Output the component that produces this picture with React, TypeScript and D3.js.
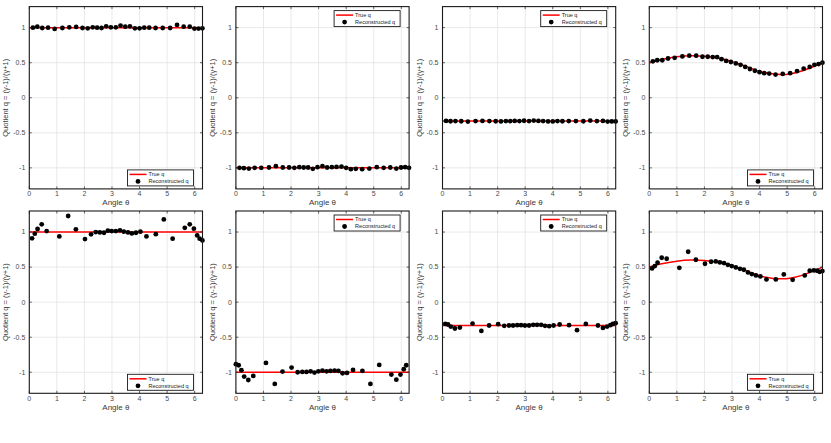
import React from 'react';
import * as d3 from 'd3';

const W = 831;
const H = 443;
const TAU = 2 * Math.PI;

// sample angles (top row: clean reconstructions, bottom row: noisy)
const thetaTop = [0.13, 0.29, 0.47, 0.68, 0.92, 1.2, 1.45, 1.7, 1.93, 2.12, 2.3, 2.46, 2.62, 2.79, 2.96, 3.14,
  3.31, 3.48, 3.65, 3.83, 4.0, 4.17, 4.35, 4.58, 4.84, 5.11, 5.36, 5.6, 5.82, 5.99, 6.14, 6.28];
const thetaBottom = [0, 0.1, 0.2, 0.3, 0.45, 0.63, 1.09, 1.41, 1.69, 2.02, 2.24, 2.41, 2.56, 2.71, 2.85, 2.99,
  3.14, 3.29, 3.43, 3.58, 3.72, 3.87, 4.03, 4.25, 4.59, 4.88, 5.2, 5.64, 5.82, 5.97, 6.09, 6.18, 6.28];

const reconPos = [1.0, 1.014, 0.995, 1.0, 0.981, 0.995, 1.005, 1.01, 0.995, 0.99, 1.005, 1.0, 0.995, 1.019, 1.005, 1.005,
  1.029, 1.014, 1.019, 0.99, 0.99, 1.0, 1.0, 0.995, 0.995, 0.995, 1.038, 1.014, 1.014, 0.986, 0.986, 0.99];
const reconNeg = [-1.0, -1.005, -1.01, -1.0, -1.0, -0.995, -0.976, -0.995, -0.995, -1.0, -0.99, -0.995, -0.995, -1.014, -0.99, -0.976,
  -0.995, -0.99, -0.986, -0.981, -1.0, -1.019, -1.014, -1.019, -1.01, -0.99, -1.0, -0.995, -1.01, -0.995, -0.99, -1.0];
const reconThird = [-0.33, -0.335, -0.333, -0.335, -0.34, -0.333, -0.33, -0.333, -0.335, -0.338, -0.333, -0.333, -0.33, -0.333, -0.328, -0.333,
  -0.325, -0.33, -0.333, -0.338, -0.338, -0.333, -0.335, -0.333, -0.333, -0.335, -0.325, -0.333, -0.33, -0.34, -0.338, -0.338];
const reconWave = [0.52, 0.535, 0.535, 0.56, 0.57, 0.59, 0.6, 0.6, 0.585, 0.585, 0.58, 0.58, 0.55, 0.525, 0.51, 0.49,
  0.47, 0.44, 0.41, 0.385, 0.365, 0.35, 0.345, 0.33, 0.34, 0.35, 0.38, 0.415, 0.44, 0.47, 0.48, 0.5];

const noisyPos = [null, 0.91, 0.976, 1.043, 1.11, 1.014, 0.938, 1.229, 1.038, 0.9, 0.967, 1.0, 0.995, 0.99, 1.02, 1.014,
  1.014, 1.024, 1.005, 0.995, 0.98, 0.99, 1.005, 0.938, 0.97, 1.18, 0.905, 1.06, 1.11, 1.048, 0.952, 0.905, 0.88];
const noisyNeg = [-0.886, -0.9, -0.971, -1.062, -1.11, -1.052, -0.867, -1.167, -0.99, -0.933, -1.0, -0.995, -0.995, -0.986, -1.005, -0.986,
  -0.976, -0.986, -0.981, -0.976, -0.981, -1.014, -1.01, -0.967, -0.981, -1.167, -0.895, -1.033, -1.105, -1.033, -0.957, -0.9, null];
const noisyThird = [null, -0.31, -0.319, -0.348, -0.376, -0.362, -0.305, -0.41, -0.333, -0.314, -0.338, -0.333, -0.333, -0.329, -0.329, -0.333,
  -0.333, -0.324, -0.324, -0.324, -0.338, -0.343, -0.333, -0.319, -0.329, -0.4, -0.31, -0.333, -0.367, -0.348, -0.329, -0.31, -0.3];
const noisyWave = [null, 0.481, 0.514, 0.562, 0.633, 0.619, 0.49, 0.719, 0.605, 0.548, 0.576, 0.581, 0.567, 0.557, 0.533, 0.514,
  0.495, 0.476, 0.462, 0.424, 0.4, 0.381, 0.367, 0.324, 0.324, 0.395, 0.319, 0.381, 0.448, 0.452, 0.448, 0.433, 0.443];

// true quotient
const flatTheta = [0, TAU];
const truePos = [1, 1];
const trueNeg = [-1, -1];
const trueThird = [-1 / 3, -1 / 3];
const waveTheta = [0, 0.5, 1.0, 1.5, 2.0, 2.5, 3.0, 3.5, 4.0, 4.5, 4.8, 5.1, 5.5, 6.0, TAU];
const trueWave = [0.5, 0.55, 0.585, 0.6, 0.593, 0.567, 0.515, 0.45, 0.375, 0.338, 0.332, 0.34, 0.378, 0.452, 0.5];

const xTicks = [0, 1, 2, 3, 4, 5, 6];
const yTicks = [-1, -0.5, 0, 0.5, 1];

const FONT = '"Liberation Sans", Arial, Helvetica, sans-serif';

type Cfg = {
  theta: number[];
  q: (number | null)[];
  tTheta: number[];
  tQ: number[];
  legend: 'ne' | 'se';
};

const panels: Cfg[] = [
  { theta: thetaTop, q: reconPos, tTheta: flatTheta, tQ: truePos, legend: 'se' },
  { theta: thetaTop, q: reconNeg, tTheta: flatTheta, tQ: trueNeg, legend: 'ne' },
  { theta: thetaTop, q: reconThird, tTheta: flatTheta, tQ: trueThird, legend: 'ne' },
  { theta: thetaTop, q: reconWave, tTheta: waveTheta, tQ: trueWave, legend: 'se' },
  { theta: thetaBottom, q: noisyPos, tTheta: flatTheta, tQ: truePos, legend: 'se' },
  { theta: thetaBottom, q: noisyNeg, tTheta: flatTheta, tQ: trueNeg, legend: 'ne' },
  { theta: thetaBottom, q: noisyThird, tTheta: flatTheta, tQ: trueThird, legend: 'ne' },
  { theta: thetaBottom, q: noisyWave, tTheta: waveTheta, tQ: trueWave, legend: 'se' },
];

const PW = 173.2;
const PH = 182.3;

function Panel({ cfg, left, top, id }: { cfg: Cfg; left: number; top: number; id: string }) {
  const x = d3.scaleLinear().domain([0, TAU]).range([0, PW]);
  const y = d3.scaleLinear().domain([-1.3, 1.3]).range([PH, 0]);
  const line = d3.line<number>()
    .x((_, i) => x(cfg.tTheta[i]))
    .y((d) => y(d))
    .curve(d3.curveCatmullRom);

  const pts = cfg.theta
    .map((t, i) => ({ t, q: cfg.q[i] }))
    .filter((d) => d.q !== null) as { t: number; q: number }[];

  const lw = 66;
  const lh = 16;
  const lx = PW - 9 - lw;
  const ly = cfg.legend === 'ne' ? 4 : PH - 3 - lh;
  const tk = 2.5;

  return (
    <g transform={`translate(${left},${top})`}>
      <defs>
        <clipPath id={id}>
          <rect x={0} y={0} width={PW} height={PH} />
        </clipPath>
      </defs>
      <rect x={0} y={0} width={PW} height={PH} fill="#fff" />
      {xTicks.map((t) => (
        <line key={'gx' + t} x1={x(t)} x2={x(t)} y1={0} y2={PH} stroke="#e0e0e0" strokeWidth={0.7} />
      ))}
      {yTicks.map((t) => (
        <line key={'gy' + t} x1={0} x2={PW} y1={y(t)} y2={y(t)} stroke="#e0e0e0" strokeWidth={0.7} />
      ))}
      <g clipPath={`url(#${id})`}>
        <path d={line(cfg.tQ) || ''} fill="none" stroke="#ff0000" strokeWidth={1.5} />
      </g>
      {pts.map((d, i) => (
        <circle key={i} cx={x(d.t)} cy={y(d.q)} r={2.4} fill="#000" />
      ))}
      {xTicks.map((t) => (
        <g key={'tx' + t}>
          <line x1={x(t)} x2={x(t)} y1={PH} y2={PH - tk} stroke="#262626" strokeWidth={0.7} />
          <line x1={x(t)} x2={x(t)} y1={0} y2={tk} stroke="#262626" strokeWidth={0.7} />
          <text x={x(t)} y={PH + 7.5} textAnchor="middle" fontSize={7} fill="#4a4a4a">{t}</text>
        </g>
      ))}
      {yTicks.map((t) => (
        <g key={'ty' + t}>
          <line x1={0} x2={tk} y1={y(t)} y2={y(t)} stroke="#262626" strokeWidth={0.7} />
          <line x1={PW} x2={PW - tk} y1={y(t)} y2={y(t)} stroke="#262626" strokeWidth={0.7} />
          <text x={-4} y={y(t) + 2.4} textAnchor="end" fontSize={7} fill="#4a4a4a">{String(t)}</text>
        </g>
      ))}
      <rect x={0} y={0} width={PW} height={PH} fill="none" stroke="#1a1a1a" strokeWidth={1.1} />
      <text x={PW / 2} y={PH + 16.5} textAnchor="middle" fontSize={8} fill="#3a3a3a">Angle θ</text>
      <text
        transform={`translate(${-21},${PH / 2}) rotate(-90)`}
        textAnchor="middle"
        fontSize={7.5}
        fill="#3a3a3a"
      >
        Quotient q = (γ-1)/(γ+1)
      </text>
      <g transform={`translate(${lx},${ly})`}>
        <rect x={0} y={0} width={lw} height={lh} fill="#fff" stroke="#1a1a1a" strokeWidth={0.9} />
        <line x1={2} x2={19} y1={4.5} y2={4.5} stroke="#ff0000" strokeWidth={1.5} />
        <text x={21} y={6.4} fontSize={5.5} fill="#222">True q</text>
        <circle cx={10.5} cy={11.5} r={2.4} fill="#000" />
        <text x={21} y={13.4} fontSize={5.5} fill="#222">Reconstructed q</text>
      </g>
    </g>
  );
}

export default function App() {
  const lefts = [29.3, 235.9, 442.5, 649.3];
  const tops = [6.6, 211];
  return (
    <div style={{ position: 'fixed', left: 0, top: 0, width: W, height: H, background: '#fff' }}>
      <svg width={W} height={H} style={{ display: 'block', fontFamily: FONT }}>
        <rect width={W} height={H} fill="#fff" />
        {panels.map((cfg, i) => (
          <Panel key={i} id={'clip' + i} cfg={cfg} left={lefts[i % 4]} top={tops[Math.floor(i / 4)]} />
        ))}
      </svg>
    </div>
  );
}
